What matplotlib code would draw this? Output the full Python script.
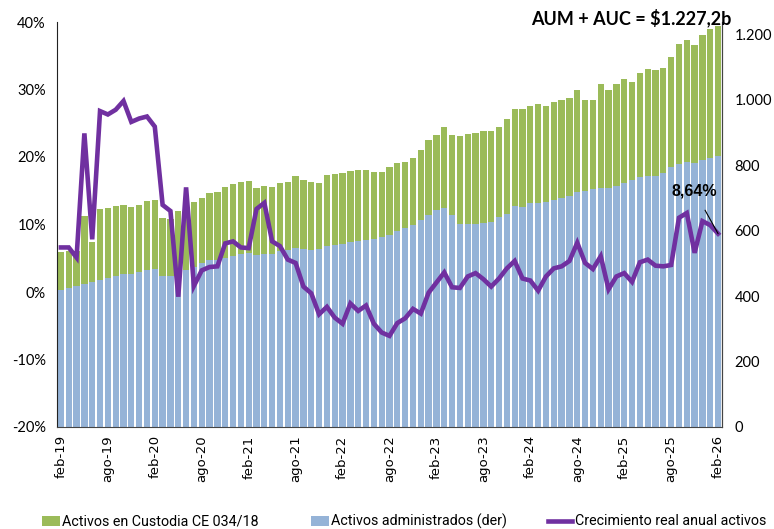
import matplotlib
matplotlib.use("Agg")
import matplotlib.pyplot as plt
from matplotlib.ticker import FuncFormatter, FixedLocator
from matplotlib.patches import Rectangle
from matplotlib.lines import Line2D
import numpy as np

months = ["ene", "feb", "mar", "abr", "may", "jun", "jul", "ago", "sep", "oct", "nov", "dic"]
# Monthly periods feb-19 .. feb-26
periods = []
y, m = 2019, 1
for _ in range(85):
    periods.append(f"{months[m]}-{str(y)[2:]}")
    m += 1
    if m == 12:
        m = 0
        y += 1

administrados = [420, 425, 432, 438, 444, 450, 456, 461, 467, 467,
                 475, 480, 484, 462, 462, 480, 480, 490, 500, 509,
                 511, 518, 524, 529, 533, 526, 529, 529, 537, 541,
                 546, 543, 541, 544, 553, 555, 560, 566, 570, 572,
                 575, 580, 588, 600, 608, 616, 633, 647, 662, 669,
                 647, 620, 620, 620, 624, 627, 641, 651, 675, 672,
                 685, 686, 687, 694, 699, 706, 717, 722, 726, 732,
                 732, 736, 747, 756, 763, 768, 768, 775, 795, 803,
                 810, 806, 817, 821, 828]

custodia = [116, 114, 105, 206, 123, 215, 213, 215, 212, 206,
            205, 210, 209, 177, 174, 179, 188, 198, 200, 207,
            207, 216, 220, 221, 219, 206, 209, 205, 208, 209,
            220, 212, 209, 203, 218, 218, 216, 217, 216, 215,
            205, 200, 206, 206, 203, 206, 214, 230, 231, 247,
            247, 271, 275, 278, 280, 277, 276, 290, 297, 300,
            296, 302, 295, 298, 301, 300, 314, 278, 274, 315,
            297, 314, 318, 300, 318, 325, 322, 322, 336, 369,
            372, 363, 380, 396, 399.2]

crecimiento = [6.6, 6.6, 5.1, 23.5, 7.8, 26.8, 26.3, 27.0, 28.3, 25.2,
               25.7, 26.0, 24.5, 12.9, 12.0, -0.7, 15.5, 0.9, 3.2, 3.7,
               3.8, 7.2, 7.5, 6.6, 6.5, 12.3, 13.2, 7.5, 6.8, 4.8,
               4.3, 0.8, -0.2, -3.3, -2.2, -3.8, -4.7, -1.7, -2.8, -2.0,
               -4.7, -6.0, -6.5, -4.6, -3.9, -2.5, -3.2, -0.1, 1.4, 2.9,
               0.7, 0.6, 2.3, 2.8, 1.9, 0.8, 2.0, 3.5, 4.6, 2.0,
               1.7, 0.2, 2.3, 3.5, 3.8, 4.6, 7.3, 4.3, 3.4, 5.3,
               0.4, 2.3, 2.8, 1.5, 4.4, 4.8, 3.9, 3.8, 4.0, 11.0,
               11.7, 5.8, 10.5, 9.9, 8.64]

tick_labels = periods[::6]
titulo = "AUM + AUC = $1.227,2b"
etiqueta_final = "8,64%"
legend_labels = ["Activos en Custodia CE 034/18", "Activos administrados (der)",
                 "Crecimiento real anual activos"]

GREEN = "#9BBB59"
BLUE = "#95B3D7"
PURPLE = "#7030A0"

W, H = 774, 529
fig = plt.figure(figsize=(W/100, H/100), dpi=100)
ax = fig.add_axes([57/W, 1-427/H, (722-57)/W, (427-22)/H])
ax2 = ax.twinx()

x = np.arange(len(periods))
ax2.bar(x, administrados, width=0.8, color=BLUE, linewidth=0)
ax2.bar(x, custodia, bottom=administrados, width=0.8, color=GREEN, linewidth=0)
ax2.set_ylim(0, 1238)
ax2.yaxis.set_major_locator(FixedLocator([0, 200, 400, 600, 800, 1000, 1200]))
ax2.yaxis.set_major_formatter(FuncFormatter(lambda v, p: f"{int(v):,}".replace(",", ".")))

ax.plot(x, crecimiento, color=PURPLE, linewidth=3.3, solid_joinstyle="miter", zorder=5)
ax.set_ylim(-20, 40)
ax.yaxis.set_major_locator(FixedLocator([-20, -10, 0, 10, 20, 30, 40]))
ax.yaxis.set_major_formatter(FuncFormatter(lambda v, p: f"{int(v)}%"))
ax.set_xlim(-0.5, len(periods) - 0.5)
ax.set_xticks(x[::6])
ax.set_xticklabels(tick_labels, rotation=90, fontsize=9.5, family="DejaVu Sans")

ax.set_zorder(ax2.get_zorder() + 1)
ax.patch.set_visible(False)

for a in (ax, ax2):
    a.tick_params(length=0)
    a.spines["top"].set_visible(False)
for lab in ax.get_yticklabels() + ax2.get_yticklabels():
    lab.set_family("Lato")
    lab.set_fontsize(10.5)
ax.tick_params(axis="y", pad=8)
ax2.tick_params(axis="y", pad=9)
ax.tick_params(axis="x", pad=6)
ax.spines["left"].set_color("#222222")
ax.spines["bottom"].set_color("#444444")
ax.spines["right"].set_color("#444444")
ax2.spines["right"].set_color("#444444")
for s in ("left", "bottom"):
    ax2.spines[s].set_visible(False)

fig.text(731/W, 1-18/H, titulo, ha="right", va="center",
         fontsize=13, fontweight="bold", family="Lato")

last = len(periods) - 1
ax.annotate(etiqueta_final, xy=(last, crecimiento[-1]), xytext=(last - 3.0, 14.9),
            ha="center", va="center", fontsize=11.5, fontweight="bold", family="Liberation Sans",
            arrowprops=dict(arrowstyle="-", color="black", lw=0.8,
                            shrinkA=7, shrinkB=0), zorder=6)

# Legend drawn in figure pixel positions
ly = 1 - 521/H
fig.add_artist(Rectangle((42/W, ly - 5/H), 18/W, 10/H, transform=fig.transFigure,
                         color=GREEN, lw=0))
fig.text(62/W, ly, legend_labels[0], ha="left", va="center", fontsize=10.3, family="Roboto")
fig.add_artist(Rectangle((311/W, ly - 5/H), 18/W, 10/H, transform=fig.transFigure,
                         color=BLUE, lw=0))
fig.text(331/W, ly, legend_labels[1], ha="left", va="center", fontsize=10.3, family="Roboto")
fig.add_artist(Line2D([548/W, 572/W], [ly, ly], transform=fig.transFigure,
                      color=PURPLE, lw=3.3))
fig.text(575/W, ly, legend_labels[2], ha="left", va="center", fontsize=10.3, family="Roboto")

fig.savefig("out.png", dpi=100)
